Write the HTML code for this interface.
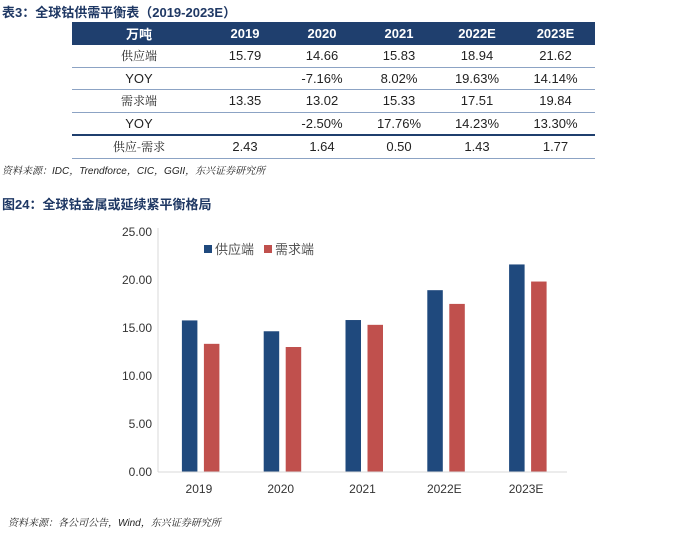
<!DOCTYPE html>
<html><head><meta charset="utf-8">
<style>
body{margin:0;width:700px;height:533px;background:#fff;position:relative;overflow:hidden;font-family:"Liberation Sans","Noto Sans CJK SC",sans-serif;}
.t{position:absolute;white-space:nowrap;}
.title{color:#1f3864;font-weight:bold;font-size:13px;}
.src{font-style:italic;font-size:10px;color:#222;font-family:"Liberation Sans","Noto Serif CJK SC",serif;}
table{position:absolute;left:72px;top:22px;border-collapse:collapse;font-size:13px;color:#222;}
td,th{height:21.5px;padding:0;text-align:center;border-bottom:1.5px solid #8ca3c4;}
th{background:#1f3f6e;color:#fff;font-weight:bold;height:23px;border-bottom:none;}
tr.dk td{border-bottom:2px solid #1f3f6e;}
td.l{font-family:"Noto Serif CJK SC",serif;font-size:12px;}
</style></head><body>
<div class="t title" style="left:2px;top:2px;">表3：全球钴供需平衡表（2019-2023E）</div>
<table>
<tr><th style="width:134px" class="l">万吨</th><th style="width:78px">2019</th><th style="width:76px">2020</th><th style="width:78px">2021</th><th style="width:78px">2022E</th><th style="width:79px">2023E</th></tr>
<tr><td class="l">供应端</td><td>15.79</td><td>14.66</td><td>15.83</td><td>18.94</td><td>21.62</td></tr>
<tr><td>YOY</td><td></td><td>-7.16%</td><td>8.02%</td><td>19.63%</td><td>14.14%</td></tr>
<tr><td class="l">需求端</td><td>13.35</td><td>13.02</td><td>15.33</td><td>17.51</td><td>19.84</td></tr>
<tr class="dk"><td>YOY</td><td></td><td>-2.50%</td><td>17.76%</td><td>14.23%</td><td>13.30%</td></tr>
<tr><td class="l">供应-需求</td><td>2.43</td><td>1.64</td><td>0.50</td><td>1.43</td><td>1.77</td></tr>
</table>
<div class="t src" style="left:2px;top:162px;">资料来源：IDC，Trendforce，CIC，GGII，东兴证券研究所</div>
<div class="t title" style="left:2px;top:194px;">图24：全球钴金属或延续紧平衡格局</div>
<svg id="chart" width="700" height="533" style="position:absolute;left:0;top:0"></svg>
<div class="t src" style="left:8px;top:514px;">资料来源：各公司公告，Wind，东兴证券研究所</div>
<script>
const categories=["2019","2020","2021","2022E","2023E"];
const supply=[15.79,14.66,15.83,18.94,21.62];
const demand=[13.35,13.02,15.33,17.51,19.84];
const yTicks=[0,5,10,15,20,25];
const seriesNames=["供应端","需求端"];
const svg=document.getElementById('chart');
const NS='http://www.w3.org/2000/svg';
const X0=158,X1=567,Y0=472,Y1=232,YMAX=25;
const y=v=>Y0-(v/YMAX)*(Y0-Y1);
const bw=(X1-X0)/categories.length;
const cx=i=>X0+bw*(i+0.5);
function mk(t,a){const e=document.createElementNS(NS,t);for(const k in a)e.setAttribute(k,a[k]);svg.appendChild(e);return e;}
const ax=mk('line',{x1:X0,y1:Y1-4,x2:X0,y2:Y0,stroke:'#d9d9d9'});


yTicks.forEach(v=>{
 const t=mk('text',{x:152,y:y(v)+4,'text-anchor':'end','font-size':'12','fill':'#333','font-family':'Liberation Sans'});
 t.textContent=v.toFixed(2);
 
 
});
categories.forEach((c,i)=>{
 const b1=mk('rect',{x:cx(i)-17,y:y(supply[i]),width:15.5,height:Y0-y(supply[i]),fill:'#1f497d'});
 
 
 const b2=mk('rect',{x:cx(i)+5,y:y(demand[i]),width:15.5,height:Y0-y(demand[i]),fill:'#c0504d'});
 
 
 const t=mk('text',{x:cx(i),y:Y0+21,'text-anchor':'middle','font-size':'12','fill':'#333','font-family':'Liberation Sans'});
 t.textContent=c;
 
 
});
const xa=mk('line',{x1:X0,y1:Y0,x2:X1,y2:Y0,stroke:'#d9d9d9'});


[['#1f497d',204],['#c0504d',264]].forEach((p,k)=>{
 const r=mk('rect',{x:p[1],y:245,width:8,height:8,fill:p[0]});
 
 
 const t=mk('text',{x:p[1]+11,y:254,'font-size':'13','fill':'#555','font-family':'Noto Sans CJK SC, sans-serif'});
 t.textContent=seriesNames[k];
 
 
});
</script>
</body></html>
